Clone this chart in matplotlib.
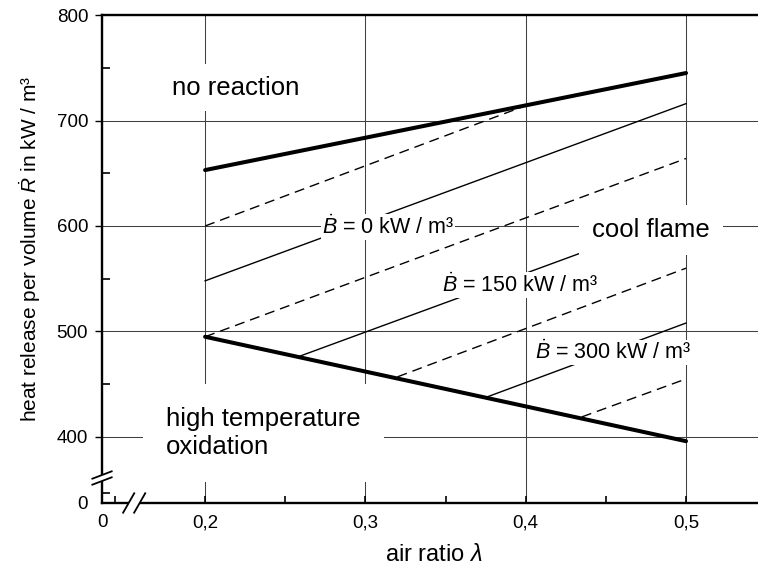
"""Heat release per volume versus air ratio: reaction regimes diagram."""

import matplotlib.pyplot as plt

plt.rcParams["font.family"] = ["Liberation Sans", "DejaVu Sans"]
plt.rcParams["mathtext.fontset"] = "custom"
plt.rcParams["mathtext.rm"] = "Liberation Sans"
plt.rcParams["mathtext.it"] = "Liberation Sans:italic"

# boundaries of the cool flame region
LAM_BOUNDARY = [0.2, 0.5]
R_UPPER = [653, 745]
R_LOWER = [495, 396]

# B = 0 kW/m3
B0_UPPER_LAM = [0.2, 0.398]
B0_UPPER_R = [600, 713]
B0_MID_LAM = [0.2, 0.5]
B0_MID_R = [548, 716]
B0_LOWER_LAM = [0.2, 0.5]
B0_LOWER_R = [495, 664]

# B = 150 kW/m3
B150_MID_LAM = [0.258, 0.5]
B150_MID_R = [476, 611]
B150_LOWER_LAM = [0.32, 0.5]
B150_LOWER_R = [457, 560]

# B = 300 kW/m3
B300_MID_LAM = [0.376, 0.5]
B300_MID_R = [438, 508]
B300_LOWER_LAM = [0.435, 0.5]
B300_LOWER_R = [419, 455]

# broken axes: where the "0" of each axis is drawn
X_ZERO = 0.1357
Y_ZERO = 337.4
X_TICKS = [X_ZERO, 0.2, 0.3, 0.4, 0.5]
X_TICK_LABELS = ["0", "0,2", "0,3", "0,4", "0,5"]
X_MINOR = [0.1439, 0.25, 0.35, 0.45]
Y_TICKS = [Y_ZERO, 400, 500, 600, 700, 800]
Y_TICK_LABELS = ["0", "400", "500", "600", "700", "800"]
Y_MINOR = [346.9, 450, 550, 650, 750]


def draw_break(ax, anchor, offsets, along):
    """Draw a '//' break mark at an axes-fraction anchor, sizes in pixels."""
    fig = ax.figure
    bbox = ax.get_window_extent(fig.canvas.get_renderer())
    sx, sy = 1.0 / bbox.width, 1.0 / bbox.height
    (dx, dy), (ax_off, ay_off) = offsets, along
    # white gap in the spine between the two strokes
    if ay_off == 0:
        ax.fill_between([anchor[0] - ax_off * sx, anchor[0] + ax_off * sx],
                        anchor[1] - 3 * sy, anchor[1] + 3 * sy,
                        color="white", transform=ax.transAxes,
                        clip_on=False, zorder=5, lw=0)
    else:
        ax.fill_between([anchor[0] - 3 * sx, anchor[0] + 3 * sx],
                        anchor[1] - ay_off * sy, anchor[1] + ay_off * sy,
                        color="white", transform=ax.transAxes,
                        clip_on=False, zorder=5, lw=0)
    for sign in (-1, 1):
        cx = anchor[0] + sign * ax_off * sx
        cy = anchor[1] + sign * ay_off * sy
        ax.plot([cx - dx * sx, cx + dx * sx], [cy - dy * sy, cy + dy * sy],
                color="black", lw=1.3, transform=ax.transAxes,
                clip_on=False, zorder=6, solid_capstyle="butt")


fig = plt.figure(figsize=(7.58, 5.71), dpi=100)
ax = fig.add_axes([0.1346, 0.1191, 0.8654, 0.8546])

ax.set_xlim(X_ZERO, 0.5449)
ax.set_ylim(Y_ZERO, 800)

thin = dict(color="black", lw=1.0, zorder=2)
dash = dict(color="black", lw=1.0, zorder=2, dashes=(7.2, 4.3))
thick = dict(color="black", lw=2.9, zorder=3, solid_capstyle="round")

ax.plot(LAM_BOUNDARY, R_UPPER, **thick)
ax.plot(LAM_BOUNDARY, R_LOWER, **thick)

ax.plot(B0_UPPER_LAM, B0_UPPER_R, **dash)
ax.plot(B0_MID_LAM, B0_MID_R, **thin)
ax.plot(B0_LOWER_LAM, B0_LOWER_R, **dash)
ax.plot(B150_MID_LAM, B150_MID_R, **thin)
ax.plot(B150_LOWER_LAM, B150_LOWER_R, **dash)
ax.plot(B300_MID_LAM, B300_MID_R, **thin)
ax.plot(B300_LOWER_LAM, B300_LOWER_R, **dash)

# region labels with white boxes that hide the grid behind them
ax.text(0.2193, 731, "no reaction", fontsize=18.5, ha="center", va="center",
        bbox=dict(boxstyle="square,pad=0.45", fc="white", ec="none"),
        zorder=4)
ax.text(0.4782, 596, "cool flame", fontsize=18.5, ha="center", va="center",
        bbox=dict(boxstyle="square,pad=0.5", fc="white", ec="none"), zorder=4)
ax.text(0.1757, 404, "high temperature\noxidation", fontsize=18.5,
        ha="left", va="center", zorder=4,
        bbox=dict(boxstyle="square,pad=0.9", fc="white", ec="none"))

label_box = dict(boxstyle="square,pad=0.05", fc="white", ec="none")
ax.text(0.3142, 599, r"$\dot{B}$ = 0 kW / m³", fontsize=15.5,
        ha="center", va="center", bbox=label_box, zorder=4)
ax.text(0.3962, 544, r"$\dot{B}$ = 150 kW / m³", fontsize=15.5,
        ha="center", va="center", bbox=label_box, zorder=4)
ax.text(0.4545, 480, r"$\dot{B}$ = 300 kW / m³", fontsize=15.5,
        ha="center", va="center", bbox=label_box, zorder=4)

ax.set_xticks(X_TICKS, labels=X_TICK_LABELS)
ax.set_xticks(X_MINOR, minor=True)
ax.set_yticks(Y_TICKS, labels=Y_TICK_LABELS)
ax.set_yticks(Y_MINOR, minor=True)
ax.tick_params(axis="x", which="both", direction="in", length=5, width=1.2,
               labelsize=13.5, pad=8)
ax.tick_params(axis="y", which="major", direction="out", length=5, width=1.0,
               labelsize=13.5, pad=5)
ax.tick_params(axis="y", which="minor", direction="in", length=6, width=1.2)
ax.yaxis.get_major_ticks()[0].tick1line.set_visible(False)

ax.grid(True, which="major", color="#404040", lw=0.75, zorder=0.5)
ax.set_axisbelow(True)

for side in ("left", "bottom", "top"):
    ax.spines[side].set_linewidth(1.7)
ax.spines["right"].set_visible(False)

ax.set_xlabel(r"air ratio $\lambda$", fontsize=17)
ax.xaxis.set_label_coords(0.506, -0.085)
ax.set_ylabel(r"heat release per volume $\dot{R}$ in kW / m³", fontsize=15)
ax.yaxis.set_label_coords(-0.09, 0.52)

# "//" marks on both broken axes
draw_break(ax, (0.0, 0.0512), (10.5, 4.0), (0.0, 3.0))
draw_break(ax, (0.049, 0.0), (6.0, 10.5), (5.5, 0.0))

fig.savefig("out.png", dpi=100)
